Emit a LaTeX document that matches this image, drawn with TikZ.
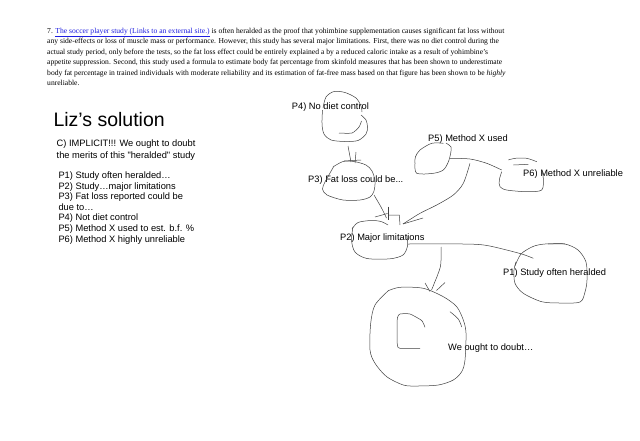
\documentclass[tikz,border=0pt]{standalone}
\usepackage{fontspec}
\setmainfont{Liberation Serif}
\newfontfamily\arialfont{Liberation Sans}
\definecolor{linkblue}{RGB}{30,30,225}
\tikzset{
  para/.style={anchor=base west, inner sep=0pt, font=\fontsize{7.6}{9}\selectfont},
  lbl/.style={anchor=base west, inner sep=0pt, font=\arialfont\fontsize{9.3}{11}\selectfont},
  lefttxt/.style={anchor=base west, inner sep=0pt, font=\arialfont\fontsize{9.3}{11}\selectfont},
  sk/.style={line width=0.5pt, black!75},
}
\begin{document}
\begin{tikzpicture}[x=1pt,y=-1pt]
\useasboundingbox[fill=white] (0,0) rectangle (640,440);
% paragraph
\node[para] (l1) at (47,33) {7. \textcolor{linkblue}{\underline{The soccer player study (Links to an external site.)}} is often heralded as the proof that yohimbine supplementation causes significant fat loss without};
\node[para] (l2) at (47,43.5) {any side-effects or loss of muscle mass or performance. However, this study has several major limitations. First, there was no diet control during the};
\node[para] (l3) at (47,54) {actual study period, only before the tests, so the fat loss effect could be entirely explained a by a reduced caloric intake as a result of yohimbine’s};
\node[para] (l4) at (47,64.5) {appetite suppression. Second, this study used a formula to estimate body fat percentage from skinfold measures that has been shown to underestimate};
\node[para] (l5) at (47,75) {body fat percentage in trained individuals with moderate reliability and its estimation of fat-free mass based on that figure has been shown to be \textit{highly}};
\node[para] (l6) at (47,85.5) {unreliable.};
% left panel
\node[anchor=base west, inner sep=0pt, font=\arialfont\fontsize{19.5}{22}\selectfont] (title) at (53.3,126) {Liz’s solution};
\node[lefttxt] (c1) at (56.5,146) {C) IMPLICIT!!! We ought to doubt};
\node[lefttxt] (c2) at (56.5,158.3) {the merits of this "heralded" study};
\node[lefttxt] (q1) at (58.3,178.5) {P1) Study often heralded…};
\node[lefttxt] (q2) at (58.3,189) {P2) Study…major limitations};
\node[lefttxt] (q3) at (58.3,199.6) {P3) Fat loss reported could be};
\node[lefttxt] (q3b) at (58.3,210.2) {due to…};
\node[lefttxt] (q4) at (58.3,220.8) {P4) Not diet control};
\node[lefttxt] (q5) at (58.3,231.4) {P5) Method X used to est. b.f. \%};
\node[lefttxt] (q6) at (58.3,242) {P6) Method X highly unreliable};
% diagram labels
\node[lbl] (p4) at (291.7,109) {P4) No diet control};
\node[lbl] (p5) at (428,141) {P5) Method X used};
\node[lbl] (p6) at (523,176.5) {P6) Method X unreliable};
\node[lbl] (p3) at (308,182.5) {P3) Fat loss could be...};
\node[lbl] (p2) at (340,240) {P2) Major limitations};
\node[lbl] (p1) at (503,275) {P1) Study often heralded};
\node[lbl] (cc) at (448,350) {We ought to doubt…};
% P4 blob
\draw[sk] plot[smooth] coordinates {(323,108) (326,97) (334,91.5) (345,92.5) (356,98) (361,106) (362,112)};
\draw[sk] plot[smooth] coordinates {(361,115) (366,120) (367.5,127) (366,134) (358,140.5) (345,141.5) (331,140) (324,134) (322,124) (322.5,110)};
\draw[sk] plot[smooth, tension=0.4] coordinates {(339,133) (352,133) (359,127) (361.5,121)};
% P4 -> P3
\draw[sk] (348,146) -- (351,162);
\draw[sk] (356,152) -- (355,163);
\draw[sk] (344,161) -- (361,160);
% P3 blob
\draw[sk] plot[smooth] coordinates {(333,167) (343,161.5) (354,161.5) (366,165) (372,171) (375,181) (374,191) (370,197) (360,200) (343,200) (327,195) (322.5,189) (325,182) (330,173) (334,166)};
% P3 -> P2
\draw[sk] plot[smooth] coordinates {(374,195) (381,207) (386.5,218)};
\draw[sk] (388.3,206.5) -- (388.3,220);
\draw[sk] (375,217) -- (387.5,213.5);
\draw[sk] (388.3,215) -- (399.3,215) -- (400,225);
% P2 blob
\draw[sk] plot[smooth] coordinates {(352,229) (358,222.5) (371,220.5) (381,221.5) (388,225)};
\draw[sk] plot[smooth] coordinates {(353,227) (351.5,240) (355,252) (367,258.5) (390,258.8) (403,255) (407.5,246) (407,236)};
% P2 -> P1
\draw[sk] plot[smooth] coordinates {(408,244) (463,244) (487,245.5) (520,253.5) (533.3,258.3)};
% P2 -> C
\draw[sk] plot[smooth] coordinates {(441,247) (440.5,266) (434,284) (431.5,290)};
\draw[sk] (425,283) -- (430,291.5);
\draw[sk] (445,282.5) -- (436.5,290.5);
% C blob
\draw[sk] plot[smooth] coordinates {(388.3,290.7) (400,287.3) (423.3,288.3) (443.3,296.7) (456.7,306.7) (463.3,320) (466,333) (465,360) (461.7,371.7) (453.3,380) (438.3,385) (416.7,386) (403.3,385) (386.7,376.7) (375,363.3) (370,350) (370.7,323.3) (375,305) (388.3,290.7)};
\draw[sk] plot[smooth] coordinates {(450,311.7) (458.3,319) (461.7,327)};
\draw[sk] plot[smooth, tension=0.3] coordinates {(425,327.3) (421.7,320.5) (410,314) (400,314) (397.3,318.3) (397.3,345) (400,348.3) (420,348.3)};
% P1 blob
\draw[sk] plot[smooth] coordinates {(515,266) (521,254) (533,246.5) (545,244) (565,244)};
\draw[sk] plot[smooth] coordinates {(548,244) (565,244) (578,250) (586,262) (587,280) (585,292) (580,302) (560,303) (541.7,301.7) (523.3,293.3) (515,283.3) (514,270) (516,262)};
% P5 blob
\draw[sk] plot[smooth] coordinates {(446,143) (451,147) (450.7,153) (448.3,162) (443.3,170) (433.3,173.3) (416.7,173.3) (415,163) (415.5,156.7) (420,150) (431.7,143.3) (443.3,143.3)};
% P5 -> P6
\draw[sk] plot[smooth] coordinates {(450,158.3) (470,159) (486.7,163.3) (501.7,170)};
% P5 -> P2
\draw[sk] plot[smooth] coordinates {(470,163.3) (463.3,183.3) (453.3,195) (436.7,205) (420,213.3) (403,224)};
\draw[sk] (403,224) -- (423,218);
% P6 blob
\draw[sk] plot[smooth] coordinates {(508.3,160) (515,158.3) (526.7,158.3) (536.7,161.7)};
\draw[sk] (513.3,165) -- (528.3,164.3);
\draw[sk] plot[smooth] coordinates {(501.7,171.7) (499.3,180) (500,186.7) (506.7,190) (526.7,191.7) (541.7,190) (543.3,178.3) (541.7,170)};
\end{tikzpicture}
\end{document}
